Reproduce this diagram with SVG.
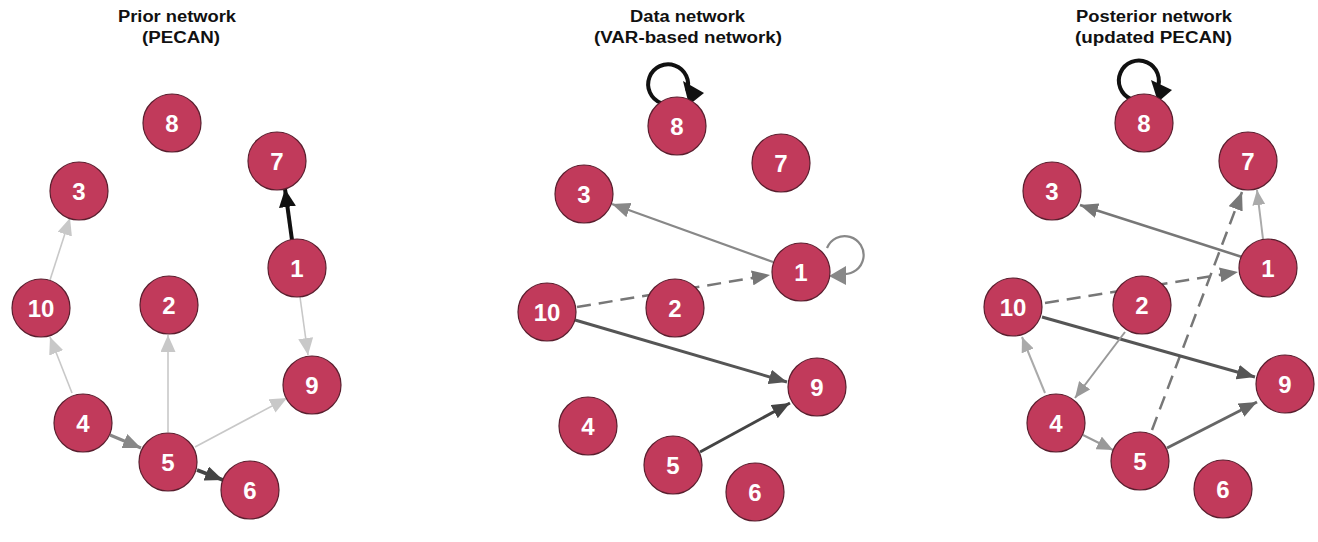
<svg xmlns="http://www.w3.org/2000/svg" width="1318" height="542" viewBox="0 0 1318 542">
<style>
.title{font-family:"Liberation Sans",Arial,sans-serif;font-weight:bold;font-size:16px;fill:#111}
.node circle{fill:#C13A5B;stroke:#5a1e2e;stroke-width:1.2}
.node text{font-family:"Liberation Sans",Arial,sans-serif;font-weight:bold;font-size:24px;fill:#fff;text-anchor:middle}
.e{fill:none}
.light{stroke:#c8c8c8;stroke-width:1.6}
.lg{stroke:#aaaaaa;stroke-width:2}
.mid{stroke:#999999;stroke-width:2}
.gray{stroke:#888888;stroke-width:2.2}
.g7{stroke:#777777;stroke-width:2.5}
.g6{stroke:#666666;stroke-width:3}
.dark{stroke:#555555;stroke-width:3}
.darker{stroke:#444444;stroke-width:3.5}
.black{stroke:#111111;stroke-width:4}
.dash{stroke-dasharray:14 8}
</style>
<defs>
<marker id="a-light" viewBox="0 0 17 15" refX="17" refY="7.5" markerWidth="17" markerHeight="15" markerUnits="userSpaceOnUse" orient="auto"><path d="M0,0 L17,7.5 L0,15 z" fill="#c8c8c8"/></marker>
<marker id="a-lg" viewBox="0 0 15 13" refX="15" refY="6.5" markerWidth="15" markerHeight="13" markerUnits="userSpaceOnUse" orient="auto"><path d="M0,0 L15,6.5 L0,13 z" fill="#aaaaaa"/></marker>
<marker id="a-mid" viewBox="0 0 16 14" refX="16" refY="7" markerWidth="16" markerHeight="14" markerUnits="userSpaceOnUse" orient="auto"><path d="M0,0 L16,7 L0,14 z" fill="#999999"/></marker>
<marker id="a-gray" viewBox="0 0 18 15" refX="18" refY="7.5" markerWidth="18" markerHeight="15" markerUnits="userSpaceOnUse" orient="auto"><path d="M0,0 L18,7.5 L0,15 z" fill="#888888"/></marker>
<marker id="a-g7" viewBox="0 0 18 15" refX="18" refY="7.5" markerWidth="18" markerHeight="15" markerUnits="userSpaceOnUse" orient="auto"><path d="M0,0 L18,7.5 L0,15 z" fill="#777777"/></marker>
<marker id="a-g6" viewBox="0 0 18 15" refX="18" refY="7.5" markerWidth="18" markerHeight="15" markerUnits="userSpaceOnUse" orient="auto"><path d="M0,0 L18,7.5 L0,15 z" fill="#666666"/></marker>
<marker id="a-dark" viewBox="0 0 18 15" refX="18" refY="7.5" markerWidth="18" markerHeight="15" markerUnits="userSpaceOnUse" orient="auto"><path d="M0,0 L18,7.5 L0,15 z" fill="#555555"/></marker>
<marker id="a-darker" viewBox="0 0 18 15" refX="18" refY="7.5" markerWidth="18" markerHeight="15" markerUnits="userSpaceOnUse" orient="auto"><path d="M0,0 L18,7.5 L0,15 z" fill="#444444"/></marker>
<marker id="a-black" viewBox="0 0 18 17" refX="18" refY="8.5" markerWidth="18" markerHeight="17" markerUnits="userSpaceOnUse" orient="auto"><path d="M0,0 L18,8.5 L0,17 z" fill="#111111"/></marker>
</defs>
<rect width="1318" height="542" fill="#ffffff"/>
<g id="titles">
<text class="title" x="118" y="22" textLength="118" lengthAdjust="spacingAndGlyphs">Prior network</text>
<text class="title" x="142" y="43" textLength="78" lengthAdjust="spacingAndGlyphs">(PECAN)</text>
<text class="title" x="630" y="22" textLength="115" lengthAdjust="spacingAndGlyphs">Data network</text>
<text class="title" x="594" y="43" textLength="188" lengthAdjust="spacingAndGlyphs">(VAR-based network)</text>
<text class="title" x="1076" y="22" textLength="156" lengthAdjust="spacingAndGlyphs">Posterior network</text>
<text class="title" x="1075" y="43" textLength="157" lengthAdjust="spacingAndGlyphs">(updated PECAN)</text>
</g>
<g id="connectors">
<!-- Prior -->
<line class="e black" x1="292" y1="240" x2="285" y2="189" marker-end="url(#a-black)"/>
<line class="e light" x1="50" y1="280" x2="70" y2="218" marker-end="url(#a-light)"/>
<line class="e light" x1="300" y1="297" x2="308" y2="355" marker-end="url(#a-light)"/>
<line class="e light" x1="72" y1="393" x2="50" y2="337" marker-end="url(#a-light)"/>
<line class="e light" x1="168" y1="432" x2="168" y2="335" marker-end="url(#a-light)"/>
<line class="e light" x1="195" y1="447" x2="287" y2="398" marker-end="url(#a-light)"/>
<line class="e gray" style="stroke-width:3" x1="110" y1="435" x2="141" y2="448" marker-end="url(#a-gray)"/>
<line class="e darker" x1="197" y1="470" x2="223" y2="480" marker-end="url(#a-darker)"/>
<!-- Data -->
<path class="e black" d="M661,103 A20,20 0 1 1 687,91"/>
<polygon points="683,81 704,93 689,105" fill="#111111"/>
<path class="e gray" d="M827,248 A19,19 0 1 1 843,274"/>
<polygon points="829,276 846,266 846,285" fill="#888888"/>
<line class="e gray" x1="773" y1="262" x2="612" y2="204" marker-end="url(#a-gray)"/>
<line class="e g7 dash" x1="577" y1="307" x2="770" y2="275" marker-end="url(#a-g7)"/>
<line class="e dark" x1="575" y1="320" x2="787" y2="382" marker-end="url(#a-dark)"/>
<line class="e darker" style="stroke-width:3" x1="700" y1="452" x2="790" y2="403" marker-end="url(#a-darker)"/>
<!-- Posterior -->
<path class="e black" d="M1131,99 A20,20 0 1 1 1157,89"/>
<polygon points="1151,80 1172,90 1158,102" fill="#111111"/>
<line class="e g7" x1="1242" y1="257" x2="1080" y2="205" marker-end="url(#a-g7)"/>
<line class="e lg" x1="1263" y1="239" x2="1257" y2="190" marker-end="url(#a-lg)"/>
<line class="e g7 dash" x1="1152" y1="430" x2="1242" y2="192" marker-end="url(#a-g7)"/>
<line class="e g7 dash" x1="1045" y1="303" x2="1238" y2="272" marker-end="url(#a-g7)"/>
<line class="e dark" x1="1042" y1="317" x2="1255" y2="377" marker-end="url(#a-dark)"/>
<line class="e mid" x1="1125" y1="332" x2="1075" y2="398" marker-end="url(#a-mid)"/>
<line class="e lg" x1="1045" y1="393" x2="1022" y2="337" marker-end="url(#a-lg)"/>
<line class="e mid" x1="1083" y1="435" x2="1113" y2="450" marker-end="url(#a-mid)"/>
<line class="e g6" x1="1167" y1="448" x2="1257" y2="402" marker-end="url(#a-g6)"/>
</g>
<!-- Prior nodes -->
<g id="prior-8" class="node"><circle cx="172" cy="123" r="29"/><text x="172" y="132">8</text></g>
<g id="prior-7" class="node"><circle cx="277" cy="161" r="29"/><text x="277" y="170">7</text></g>
<g id="prior-3" class="node"><circle cx="79" cy="191" r="29"/><text x="79" y="200">3</text></g>
<g id="prior-1" class="node"><circle cx="297" cy="268" r="29"/><text x="297" y="277">1</text></g>
<g id="prior-10" class="node"><circle cx="41" cy="308" r="29"/><text x="41" y="317">10</text></g>
<g id="prior-2" class="node"><circle cx="169" cy="305" r="29"/><text x="169" y="314">2</text></g>
<g id="prior-9" class="node"><circle cx="312" cy="385" r="29"/><text x="312" y="394">9</text></g>
<g id="prior-4" class="node"><circle cx="83" cy="423" r="29"/><text x="83" y="432">4</text></g>
<g id="prior-5" class="node"><circle cx="168" cy="462" r="29"/><text x="168" y="471">5</text></g>
<g id="prior-6" class="node"><circle cx="250" cy="490" r="29"/><text x="250" y="499">6</text></g>
<!-- Data nodes -->
<g id="data-8" class="node"><circle cx="677" cy="126" r="29"/><text x="677" y="135">8</text></g>
<g id="data-7" class="node"><circle cx="781" cy="163" r="29"/><text x="781" y="172">7</text></g>
<g id="data-3" class="node"><circle cx="584" cy="194" r="29"/><text x="584" y="203">3</text></g>
<g id="data-1" class="node"><circle cx="801" cy="272" r="29"/><text x="801" y="281">1</text></g>
<g id="data-10" class="node"><circle cx="547" cy="312" r="29"/><text x="547" y="321">10</text></g>
<g id="data-2" class="node"><circle cx="675" cy="308" r="29"/><text x="675" y="317">2</text></g>
<g id="data-9" class="node"><circle cx="817" cy="387" r="29"/><text x="817" y="396">9</text></g>
<g id="data-4" class="node"><circle cx="588" cy="426" r="29"/><text x="588" y="435">4</text></g>
<g id="data-5" class="node"><circle cx="673" cy="465" r="29"/><text x="673" y="474">5</text></g>
<g id="data-6" class="node"><circle cx="755" cy="492" r="29"/><text x="755" y="501">6</text></g>
<!-- Posterior nodes -->
<g id="post-8" class="node"><circle cx="1144" cy="123" r="29"/><text x="1144" y="132">8</text></g>
<g id="post-7" class="node"><circle cx="1248" cy="161" r="29"/><text x="1248" y="170">7</text></g>
<g id="post-3" class="node"><circle cx="1052" cy="191" r="29"/><text x="1052" y="200">3</text></g>
<g id="post-1" class="node"><circle cx="1268" cy="268" r="29"/><text x="1268" y="277">1</text></g>
<g id="post-10" class="node"><circle cx="1013" cy="307" r="29"/><text x="1013" y="316">10</text></g>
<g id="post-2" class="node"><circle cx="1142" cy="305" r="29"/><text x="1142" y="314">2</text></g>
<g id="post-9" class="node"><circle cx="1285" cy="384" r="29"/><text x="1285" y="393">9</text></g>
<g id="post-4" class="node"><circle cx="1056" cy="423" r="29"/><text x="1056" y="432">4</text></g>
<g id="post-5" class="node"><circle cx="1140" cy="461" r="29"/><text x="1140" y="470">5</text></g>
<g id="post-6" class="node"><circle cx="1223" cy="489" r="29"/><text x="1223" y="498">6</text></g>
</svg>
